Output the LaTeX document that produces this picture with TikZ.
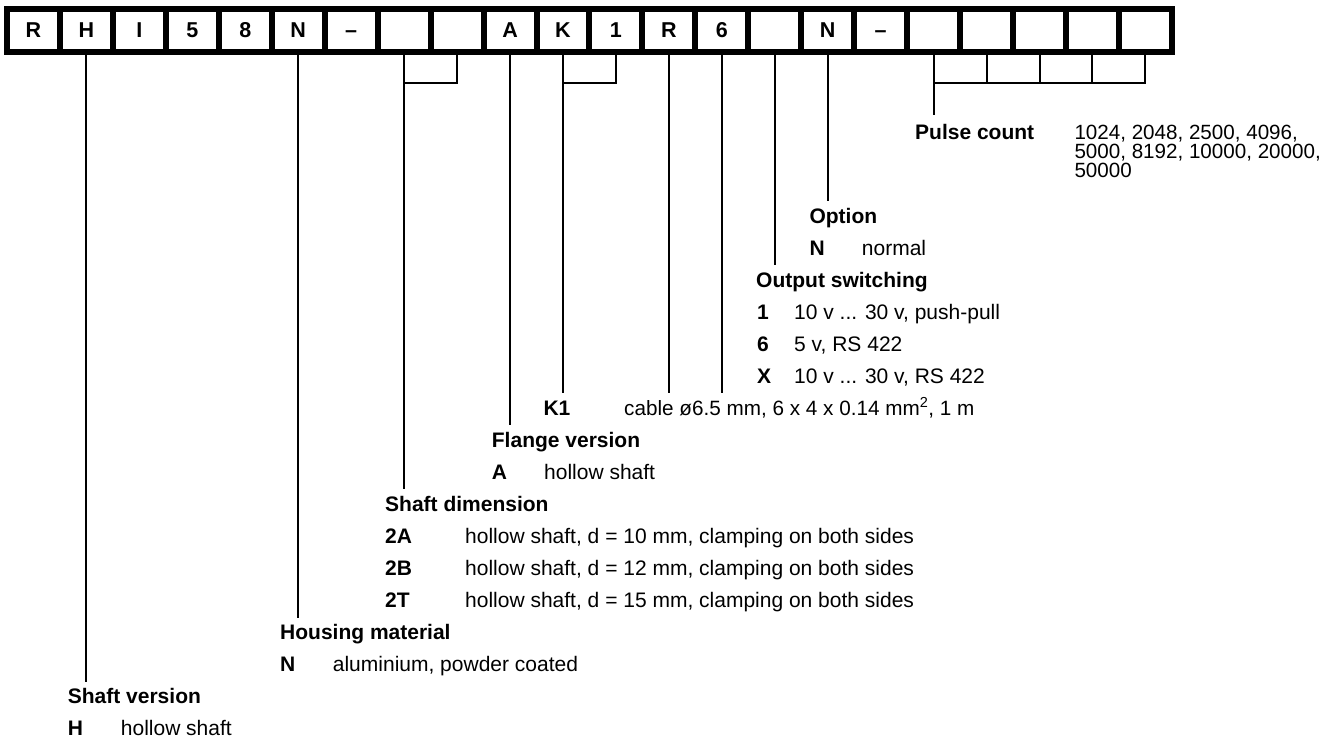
\documentclass[tikz,border=0pt]{standalone}
\usepackage{fontspec}
\setmainfont{Liberation Sans}
\begin{document}
\begin{tikzpicture}[x=1pt,y=-1pt,
  cell/.style={draw,line width=6pt,minimum width=52.95pt,minimum height=42.5pt,inner sep=0pt,text height=15pt,text depth=0pt,font=\fontsize{21.5}{21}\selectfont\bfseries},
  conn/.style={line width=2pt},
  head/.style={anchor=base west,inner sep=0pt,font=\fontsize{21}{21}\selectfont\bfseries},
  code/.style={anchor=base west,inner sep=0pt,font=\fontsize{21}{21}\selectfont\bfseries},
  desc/.style={anchor=base west,inner sep=0pt,font=\fontsize{21}{21}\selectfont}]
\useasboundingbox (0,0) rectangle (1335,740);
% code boxes
\foreach \t [count=\i] in {R,H,I,5,8,N,\textendash,{},{},A,K,1,R,6,{},N,\textendash,{},{},{},{},{}}
  \node[cell] (c\i) at ({-19.475+52.95*\i},30.25) {\t};
% reference levels
\coordinate (br) at (0,83.3);
% Shaft version
\coordinate (e2) at (0,681.7);
\draw[conn] (c2.south) -- (c2.south |- e2);
% Housing material
\coordinate (e6) at (0,617.7);
\draw[conn] (c6.south) -- (c6.south |- e6);
% Shaft dimension
\coordinate (e8) at (0,489.3);
\draw[conn] (c8.south) -- (c8.south |- e8);
\draw[conn] (c9.south) |- (c8.south |- br);
% Flange version
\coordinate (e10) at (0,425);
\draw[conn] (c10.south) -- (c10.south |- e10);
% K1 cable
\coordinate (e11) at (0,393.3);
\draw[conn] (c11.south) -- (c11.south |- e11);
\draw[conn] (c12.south) |- (c11.south |- br);
\draw[conn] (c13.south) -- (c13.south |- e11);
\draw[conn] (c14.south) -- (c14.south |- e11);
% Output switching
\coordinate (e15) at (0,265);
\draw[conn] (c15.south) -- (c15.south |- e15);
% Option
\coordinate (e16) at (0,200.7);
\draw[conn] (c16.south) -- (c16.south |- e16);
% Pulse count
\coordinate (e18) at (0,115);
\draw[conn] (c18.south) -- (c18.south |- e18);
\draw[conn] (c22.south) |- (c18.south |- br);
\draw[conn] (c19.south) -- (c19.south |- br);
\draw[conn] (c20.south) -- (c20.south |- br);
\draw[conn] (c21.south) -- (c21.south |- br);
% texts
\node[head] (pulse) at (915,139.2) {Pulse count};
\node[desc,font=\fontsize{20.6}{21}\selectfont] (pulse1) at (1074.3,139.2) {1024, 2048, 2500, 4096,};
\node[desc,font=\fontsize{20.6}{21}\selectfont] (pulse2) at (1074.3,158.2) {5000, 8192, 10000, 20000,};
\node[desc,font=\fontsize{20.6}{21}\selectfont] (pulse3) at (1074.3,177.2) {50000};
\node[head] (opt) at (809.3,223) {Option};
\node[code] (optN) at (809.3,255.5) {N};
\node[desc] (optNd) at (861.7,255.5) {normal};
\node[head] (out) at (756,287.5) {Output switching};
\node[code] (out1) at (757,319.5) {1};
\node[desc] (out1d) at (794,319.5) {10 v ... 30 v, push-pull};
\node[code] (out6) at (757,351.5) {6};
\node[desc] (out6d) at (794,351.5) {5 v, RS 422};
\node[code] (outX) at (757,383.5) {X};
\node[desc] (outXd) at (794,383.5) {10 v ... 30 v, RS 422};
\node[code] (k1) at (543.3,415.5) {K1};
\node[desc,font=\fontsize{20.7}{21}\selectfont] (k1d) at (624,415.5) {cable ø6.5 mm, 6 x 4 x 0.14 mm\textsuperscript{2}, 1 m};
\node[head] (fl) at (491.7,447.5) {Flange version};
\node[code] (flA) at (491.7,479.5) {A};
\node[desc] (flAd) at (544,479.5) {hollow shaft};
\node[head] (sd) at (385,511.5) {Shaft dimension};
\node[code] (sdA) at (385,543.5) {2A};
\node[desc] (sdAd) at (465,543.5) {hollow shaft, d = 10 mm, clamping on both sides};
\node[code] (sdB) at (385,575.5) {2B};
\node[desc] (sdBd) at (465,575.5) {hollow shaft, d = 12 mm, clamping on both sides};
\node[code] (sdT) at (385,607.5) {2T};
\node[desc] (sdTd) at (465,607.5) {hollow shaft, d = 15 mm, clamping on both sides};
\node[head] (hm) at (280,639.5) {Housing material};
\node[code] (hmN) at (280,671.5) {N};
\node[desc] (hmNd) at (332.7,671.5) {aluminium, powder coated};
\node[head] (sv) at (67.7,703.5) {Shaft version};
\node[code] (svH) at (67.7,735.5) {H};
\node[desc] (svHd) at (120.7,735.5) {hollow shaft};
\end{tikzpicture}
\end{document}
